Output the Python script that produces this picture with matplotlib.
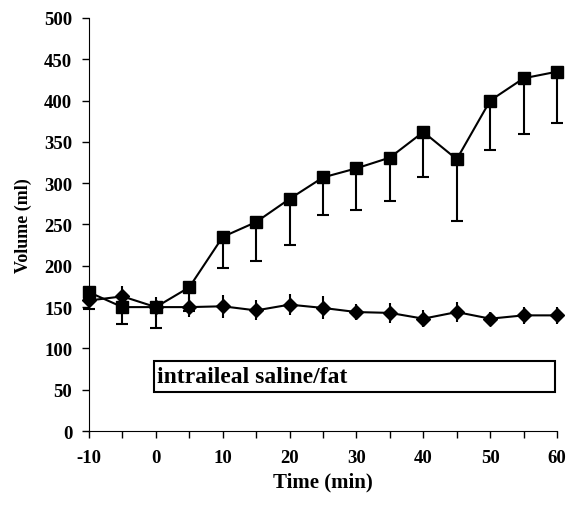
import matplotlib
matplotlib.use("Agg")
import matplotlib.pyplot as plt
from matplotlib.patches import Rectangle

plt.rcParams['font.family'] = ['Liberation Serif', 'DejaVu Serif']
plt.rcParams['font.weight'] = 'bold'
plt.rcParams['axes.unicode_minus'] = False

time = [-10, -5, 0, 5, 10, 15, 20, 25, 30, 35, 40, 45, 50, 55, 60]
fat = [168, 150, 150, 174, 235, 253, 281, 307, 318, 331, 362, 329, 400, 427, 435]
fat_lower = [148, 130, 125, 145, 197, 206, 225, 261, 267, 278, 307, 254, 340, 360, 373]
saline = [158, 163, 150, 150, 151, 146, 153, 149, 144, 143, 136, 144, 136, 140, 140]
saline_err = [12, 13, 12, 12, 14, 12, 13, 14, 10, 12, 10, 12, 8, 10, 10]
box_text = "intraileal saline/fat"

fig = plt.figure(figsize=(5.69, 5.06), dpi=100)
ax = fig.add_axes([0.1564, 0.1462, 0.8226, 0.8163])

fat_err = [[f - l for f, l in zip(fat, fat_lower)], [0] * len(fat)]
eb = ax.errorbar(time, fat, yerr=fat_err, fmt='none', ecolor='black', elinewidth=1.5, capsize=4, capthick=1.5, zorder=2)
for a in eb.lines[1] + eb.lines[2]:
    a.set_clip_on(False)
ax.plot(time, fat, color='black', lw=1.5, marker='s', markersize=8, zorder=3, clip_on=False)

eb2 = ax.errorbar(time, saline, yerr=saline_err, fmt='none', ecolor='black', elinewidth=1.5, capsize=0, zorder=2)
for a in eb2.lines[2]:
    a.set_clip_on(False)
ax.plot(time, saline, color='black', lw=1.5, marker='D', markersize=7.5, zorder=3, clip_on=False)

ax.add_patch(Rectangle((-0.3, 47), 60.0, 38, fill=False, edgecolor='black', lw=1.5, zorder=4))
ax.text(0.2, 66, box_text, fontsize=17, fontweight='bold', va='center', ha='left', zorder=5)

ax.set_xlim(-10, 60)
ax.set_ylim(0, 500)
ax.set_xticks(range(-10, 61, 10))
ax.set_xticks(range(-5, 60, 10), minor=True)
ax.set_yticks(range(0, 501, 50))
ax.spines['top'].set_visible(False)
ax.spines['right'].set_visible(False)
ax.tick_params(axis='both', which='both', direction='out', length=5, width=1, labelsize=13.5)
ax.tick_params(axis='x', pad=8)
ax.tick_params(axis='y', pad=7)
for lab in ax.get_xticklabels() + ax.get_yticklabels():
    lab.set_fontweight('bold')
ax.set_xlabel('Time (min)', fontsize=15, fontweight='bold', labelpad=4)
ax.set_ylabel('Volume (ml)', fontsize=13, fontweight='bold', labelpad=9)

fig.savefig('out.png', dpi=100)
